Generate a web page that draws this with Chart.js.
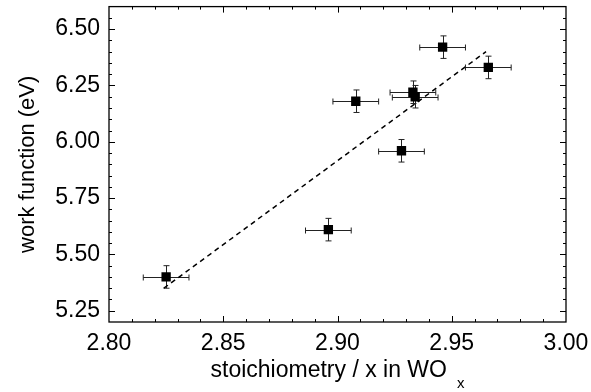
<!DOCTYPE html>
<html>
<head>
<meta charset="utf-8">
<script src="https://cdn.jsdelivr.net/npm/chart.js@4.4.0/dist/chart.umd.min.js"></script>
<style>
  html, body { margin: 0; padding: 0; background: #fff; }
  #wrap { width: 591px; height: 392px; }
</style>
</head>
<body>
<div id="wrap"><canvas id="wfChart"></canvas></div>
<script>
const stoich = [2.825, 2.896, 2.908, 2.928, 2.933, 2.934, 2.946, 2.966];
const workFn = [5.40, 5.61, 6.18, 5.96, 6.22, 6.20, 6.42, 6.33];
const stoichErr = [0.01, 0.01, 0.01, 0.01, 0.01, 0.01, 0.01, 0.01];
const workFnErr = [0.05, 0.05, 0.05, 0.05, 0.05, 0.05, 0.05, 0.05];

// dashed linear fit end points
const fitX = [2.824, 2.965];
const fitY = [5.35, 6.40];

// axes
const xRange = [2.80, 3.00];
const yRange = [5.20, 6.60];
const xTicks = [2.80, 2.85, 2.90, 2.95, 3.00];
const yTicks = [5.25, 5.50, 5.75, 6.00, 6.25, 6.50];
const xMinorStep = 0.01;
const yMinorStep = 0.05;

const FONT = '"Liberation Sans", Arial, Helvetica, sans-serif';

// error bars, drawn under the markers
const errorBars = {
  id: 'errorBars',
  beforeDatasetsDraw(chart) {
    const { ctx, scales: { x, y } } = chart;
    const cap = 3;
    ctx.save();
    ctx.strokeStyle = '#222';
    ctx.lineWidth = 1;
    stoich.forEach((sx, i) => {
      const px = Math.round(x.getPixelForValue(sx)) + 0.5;
      const py = Math.round(y.getPixelForValue(workFn[i])) + 0.5;
      const x0 = x.getPixelForValue(sx - stoichErr[i]);
      const x1 = x.getPixelForValue(sx + stoichErr[i]);
      const y0 = y.getPixelForValue(workFn[i] - workFnErr[i]);
      const y1 = y.getPixelForValue(workFn[i] + workFnErr[i]);
      ctx.beginPath();
      ctx.moveTo(x0, py); ctx.lineTo(x1, py);
      ctx.moveTo(x0, py - cap); ctx.lineTo(x0, py + cap);
      ctx.moveTo(x1, py - cap); ctx.lineTo(x1, py + cap);
      ctx.moveTo(px, y0); ctx.lineTo(px, y1);
      ctx.moveTo(px - cap, y0); ctx.lineTo(px + cap, y0);
      ctx.moveTo(px - cap, y1); ctx.lineTo(px + cap, y1);
      ctx.stroke();
    });
    ctx.restore();
  }
};

// box frame with inward ticks on all sides + x title with subscript
const frame = {
  id: 'frame',
  afterDraw(chart) {
    const { ctx, chartArea: a, scales: { x, y } } = chart;
    const isMajor = (v, list) => list.some(t => Math.abs(t - v) < 1e-6);
    ctx.save();
    ctx.strokeStyle = '#000';
    ctx.lineWidth = 1.3;
    ctx.strokeRect(a.left, a.top, a.right - a.left, a.bottom - a.top);

    ctx.lineWidth = 1;
    ctx.beginPath();
    const nx = Math.round((xRange[1] - xRange[0]) / xMinorStep);
    for (let k = 1; k < nx; k++) {
      const v = xRange[0] + k * xMinorStep;
      const len = isMajor(v, xTicks) ? 6 : 3;
      const px = Math.round(x.getPixelForValue(v)) + 0.5;
      ctx.moveTo(px, a.bottom); ctx.lineTo(px, a.bottom - len);
      ctx.moveTo(px, a.top); ctx.lineTo(px, a.top + len);
    }
    const ny = Math.round((yRange[1] - yRange[0]) / yMinorStep);
    for (let k = 1; k < ny; k++) {
      const v = yRange[0] + k * yMinorStep;
      const len = isMajor(v, yTicks) ? 6 : 3;
      const py = Math.round(y.getPixelForValue(v)) + 0.5;
      ctx.moveTo(a.left, py); ctx.lineTo(a.left + len, py);
      ctx.moveTo(a.right, py); ctx.lineTo(a.right - len, py);
    }
    ctx.stroke();

    // x axis title: stoichiometry / x in WO with subscript x
    const main = 'stoichiometry / x in WO';
    ctx.fillStyle = '#000';
    ctx.textAlign = 'left';
    ctx.textBaseline = 'alphabetic';
    ctx.font = '23px ' + FONT;
    const mw = ctx.measureText(main).width;
    ctx.font = '15px ' + FONT;
    const sw = ctx.measureText('x').width;
    const gap = 10;
    const start = (a.left + a.right) / 2 - (mw + gap + sw) / 2;
    ctx.font = '23px ' + FONT;
    ctx.fillText(main, start, a.bottom + 55);
    ctx.font = '15px ' + FONT;
    ctx.fillText('x', start + mw + gap, a.bottom + 66);
    ctx.restore();
  }
};

const ctx = document.getElementById('wfChart').getContext('2d');
new Chart(ctx, {
  type: 'scatter',
  data: {
    datasets: [
      {
        label: 'work function',
        data: stoich.map((v, i) => ({ x: v, y: workFn[i] })),
        pointStyle: 'rect',
        pointRadius: 6.6,
        pointHoverRadius: 6.6,
        backgroundColor: '#000',
        borderWidth: 0
      },
      {
        type: 'line',
        label: 'fit',
        data: fitX.map((v, i) => ({ x: v, y: fitY[i] })),
        borderColor: '#000',
        borderWidth: 1.5,
        borderDash: [5, 4],
        pointRadius: 0,
        fill: false
      }
    ]
  },
  options: {
    responsive: true,
    maintainAspectRatio: false,
    animation: false,
    layout: { padding: { left: 11, top: 4, right: 25, bottom: 0 } },
    plugins: {
      legend: { display: false },
      tooltip: { enabled: false }
    },
    scales: {
      x: {
        type: 'linear',
        min: xRange[0],
        max: xRange[1],
        afterBuildTicks: s => { s.ticks = xTicks.map(v => ({ value: v })); },
        afterFit: s => { s.height = 70; s.paddingLeft = 0; s.paddingRight = 0; },
        grid: { display: false, drawTicks: false },
        border: { display: false },
        ticks: {
          color: '#000',
          font: { family: FONT, size: 23 },
          padding: 8,
          maxRotation: 0,
          callback: v => Number(v).toFixed(2)
        }
      },
      y: {
        type: 'linear',
        min: yRange[0],
        max: yRange[1],
        afterBuildTicks: s => { s.ticks = yTicks.map(v => ({ value: v })); },
        afterFit: s => { s.width = 98; s.paddingTop = 0; s.paddingBottom = 0; },
        grid: { display: false, drawTicks: false },
        border: { display: false },
        ticks: {
          color: '#000',
          font: { family: FONT, size: 23 },
          padding: 9,
          callback: v => Number(v).toFixed(2)
        },
        title: {
          display: true,
          text: 'work function (eV)',
          color: '#000',
          font: { family: FONT, size: 22 },
          padding: { top: 4, bottom: 4 }
        }
      }
    }
  },
  plugins: [errorBars, frame]
});
</script>
</body>
</html>
